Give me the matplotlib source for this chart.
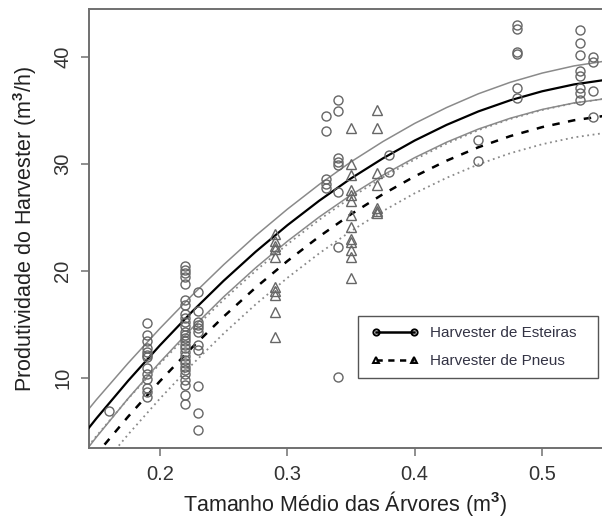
import matplotlib
matplotlib.use("Agg")
import matplotlib.pyplot as plt
from matplotlib.lines import Line2D
from matplotlib.patches import Rectangle

plt.rcParams['font.family'] = ['Liberation Sans', 'DejaVu Sans']
plt.rcParams['mathtext.fontset'] = 'custom'
plt.rcParams['mathtext.rm'] = 'Liberation Sans'
plt.rcParams['mathtext.bf'] = 'Liberation Sans:bold'

# ---------------- data ----------------
est_x = ([0.16]
         + [0.19] * 13
         + [0.22] * 28
         + [0.23] * 11
         + [0.33] * 5
         + [0.34] * 8
         + [0.38] * 2
         + [0.45] * 2
         + [0.48] * 6
         + [0.53] * 8
         + [0.54] * 4)
est_y = ([6.9]
         + [15.1, 14.0, 13.4, 12.8, 12.4, 12.1, 11.9, 10.9, 10.3, 9.9, 9.0, 8.7, 8.2]
         + [20.4, 20.1, 19.8, 19.4, 18.8, 17.3, 16.8, 16.0, 15.6, 15.2, 14.8, 14.3, 14.0, 13.7,
            13.4, 13.1, 12.8, 12.4, 12.0, 11.7, 11.4, 11.0, 10.7, 10.3, 9.8, 9.3, 8.4, 7.5]
         + [18.0, 16.2, 15.2, 14.9, 14.6, 14.3, 13.1, 12.6, 9.2, 6.7, 5.1]
         + [34.5, 33.1, 28.6, 28.1, 27.7]
         + [36.0, 34.9, 30.5, 30.2, 29.9, 27.4, 22.2, 10.1]
         + [30.8, 29.2]
         + [32.2, 30.3]
         + [43.0, 42.6, 40.4, 40.3, 37.1, 36.1]
         + [42.5, 41.3, 40.2, 38.7, 38.2, 37.1, 36.6, 36.0]
         + [40.0, 39.5, 36.8, 34.4])

pne_x = ([0.29] * 10
         + [0.35] * 13
         + [0.37] * 7)
pne_y = ([23.4, 22.8, 22.3, 22.0, 21.3, 18.5, 18.1, 17.7, 16.1, 13.8]
         + [33.3, 30.0, 28.9, 27.5, 27.1, 26.5, 25.2, 24.1, 23.0, 22.7, 21.9, 21.3, 19.3]
         + [35.0, 33.3, 29.1, 28.0, 25.9, 25.6, 25.4])

# fitted curves and confidence bands, read at these tree sizes
curve_x = [0.125, 0.15, 0.175, 0.2, 0.225, 0.25, 0.275, 0.3, 0.325, 0.35, 0.375,
           0.4, 0.425, 0.45, 0.475, 0.5, 0.525, 0.55]
est_fit = [2.44, 6.18, 9.71, 13.03, 16.15, 19.06, 21.76, 24.25, 26.54, 28.63, 30.50,
           32.17, 33.63, 34.89, 35.93, 36.77, 37.41, 37.84]
est_up = [4.29, 7.93, 11.36, 14.61, 17.68, 20.56, 23.26, 25.75, 28.06, 30.18, 32.07,
          33.77, 35.25, 36.54, 37.61, 38.47, 39.14, 39.60]
est_lo = [0.59, 4.43, 8.06, 11.45, 14.62, 17.56, 20.26, 22.75, 25.02, 27.08, 28.93,
          30.57, 32.01, 33.24, 34.25, 35.07, 35.68, 36.08]
pne_fit = [-0.91, 2.83, 6.36, 9.68, 12.80, 15.71, 18.41, 20.90, 23.19, 25.28, 27.15,
           28.82, 30.28, 31.54, 32.58, 33.42, 34.06, 34.49]
pne_up = [0.84, 4.53, 8.03, 11.31, 14.40, 17.29, 19.98, 22.47, 24.76, 26.85, 28.73,
          30.40, 31.88, 33.14, 34.18, 35.02, 35.66, 36.09]
pne_lo = [-2.66, 1.13, 4.69, 8.05, 11.20, 14.13, 16.84, 19.33, 21.62, 23.71, 25.57,
          27.24, 28.68, 29.94, 30.98, 31.82, 32.46, 32.89]

x_ticks = [0.2, 0.3, 0.4, 0.5]
y_ticks = [10, 20, 30, 40]
legend_labels = ["Harvester de Esteiras", "Harvester de Pneus"]
x_label = "Tamanho Médio das Árvores (m$^\\mathbf{3}$)"
y_label = "Produtividade do Harvester (m$^\\mathbf{3}$/h)"

# ---------------- figure ----------------
W, H = 602, 518
fig = plt.figure(figsize=(W / 100, H / 100), dpi=100)
L, R, T, B = 89, 602, 9, 448
ax = fig.add_axes([L / W, 1 - B / H, (R - L) / W, (B - T) / H])

grey_pt = '#666666'
grey_line = '#8a8a8a'
dots = (0, (1.0, 2.0))

ax.plot(curve_x, est_up, color=grey_line, lw=1.1, zorder=2)
ax.plot(curve_x, est_lo, color=grey_line, lw=1.1, zorder=2)
ax.plot(curve_x, pne_up, color=grey_line, lw=1.3, ls=dots, zorder=2)
ax.plot(curve_x, pne_lo, color=grey_line, lw=1.3, ls=dots, zorder=2)
ax.plot(curve_x, est_fit, color='black', lw=1.6, zorder=3)
ax.plot(curve_x, pne_fit, color='black', lw=1.8, ls=(0, (3.0, 3.4)), zorder=3)

ax.plot(est_x, est_y, ls='none', marker='o', ms=6.5, mfc='none', mec=grey_pt, mew=1.0, zorder=4)
ax.plot(pne_x, pne_y, ls='none', marker='^', ms=7.5, mfc='none', mec=grey_pt, mew=1.0, zorder=4)

ax.set_xlim(0.1443, 0.547)
ax.set_ylim(3.43, 44.46)
ax.set_xticks(x_ticks)
ax.set_xticklabels([f"{v:g}" for v in x_ticks])
ax.set_yticks(y_ticks)
ax.set_yticklabels([str(v) for v in y_ticks], rotation=90, va='center')

for s in ['left', 'top', 'bottom']:
    ax.spines[s].set_color('#707070')
    ax.spines[s].set_linewidth(1.4)
ax.spines['right'].set_visible(False)
ax.tick_params(axis='both', length=6, width=1.1, color='#707070', labelsize=14.5,
               labelcolor='#333333', pad=6)

ax.set_xlabel(x_label, fontsize=15.5, color='#222222', labelpad=4)
ax.set_ylabel(y_label, fontsize=15.5, color='#222222', labelpad=10)

# legend: box drawn separately, entries from a frameless legend
box = Rectangle((358 / W, 1 - 378 / H), 240 / W, 62 / H, transform=fig.transFigure,
                facecolor='white', edgecolor='#555555', lw=1.0, zorder=5, clip_on=False)
ax.add_patch(box)
handles = [
    Line2D([], [], color='black', lw=1.8, marker='o', ms=4.5, mfc='none', mec='black', mew=1.4),
    Line2D([], [], color='black', lw=1.8, ls=(0, (2.5, 2.2)), marker='^', ms=5, mfc='none',
           mec='black', mew=1.4),
]
leg = ax.legend(handles, legend_labels, loc='upper left',
                bbox_to_anchor=(362 / W, 1 - 317 / H), bbox_transform=fig.transFigure,
                frameon=False, fontsize=11, numpoints=2,
                handlelength=3.1, handletextpad=0.75, labelspacing=0.9,
                borderpad=0.6, borderaxespad=0)
leg.set_zorder(6)
for t in leg.get_texts():
    t.set_color('#333344')

fig.savefig('out.png', dpi=100)
